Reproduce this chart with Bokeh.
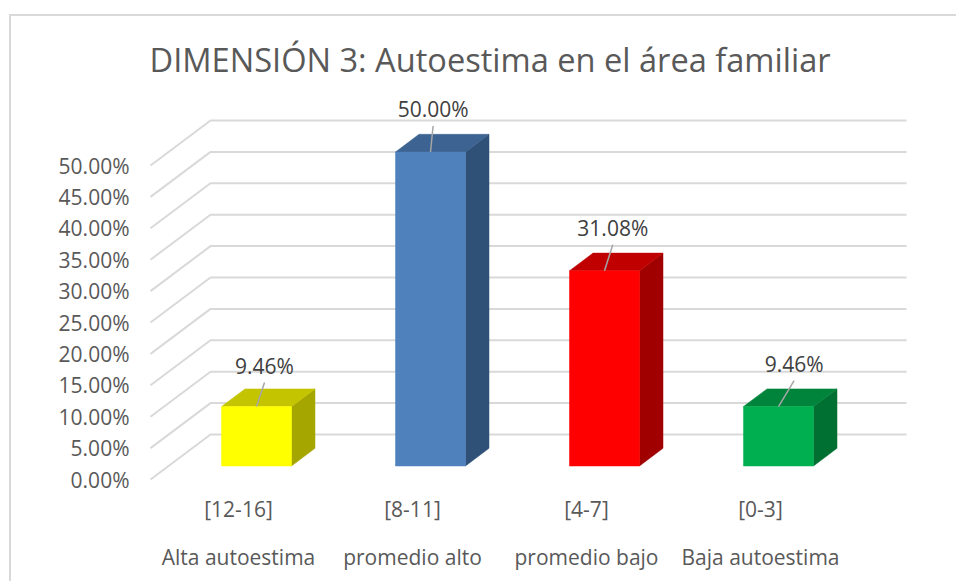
from bokeh.core.properties import value
from bokeh.embed import file_html
from bokeh.models import ColumnDataSource, FixedTicker, InlineStyleSheet, LinearAxis, NumeralTickFormatter, Range1d
from bokeh.plotting import figure
from bokeh.resources import INLINE

# ---- data
title = "DIMENSIÓN 3: Autoestima en el área familiar"
score_ranges = ["[12-16]", "[8-11]", "[4-7]", "[0-3]"]
levels = ["Alta autoestima", "promedio alto", "promedio bajo", "Baja autoestima"]
shares = [0.0946, 0.5000, 0.3108, 0.0946]
y_ticks = [0.00, 0.05, 0.10, 0.15, 0.20, 0.25, 0.30, 0.35, 0.40, 0.45, 0.50]

# ---- colours
front_colors = ["#ffff00", "#4f81bd", "#ff0000", "#00b050"]
top_colors = ["#c4c400", "#3c6391", "#c00000", "#00843c"]
side_colors = ["#a6a600", "#2f5077", "#a00000", "#006f32"]
GRID = "#d9d9d9"
TEXT = "#595959"
LABEL = "#404040"
FONT = "Open Sans"

# ---- scale of the plot in pixels per data unit, used for the 3D projection
PX_X = 174.0
PX_Y = 628.0
to_x = lambda px: px / PX_X
to_y = lambda px: px / PX_Y

WALL_DX, WALL_DY = to_x(60), to_y(45)
GRID_LEFT, GRID_RIGHT = to_x(-88), to_x(668)
BAR_LEFT, BAR_W = to_x(-17), to_x(70)
BAR_DX, BAR_DY = to_x(23.5), to_y(17.7)
BAR_BASE = to_y(13.5)
leader_dx = [8, 2.6, 8.3, 15.6]
leader_dy = [24, 26, 26, 26]
LABEL_DY = 17

p = figure(
    frame_width=795, frame_height=395,
    x_range=Range1d(to_x(-104), to_x(691)),
    y_range=Range1d(to_y(-6), to_y(389)),
    output_backend="svg", toolbar_location=None,
    min_border_left=134, min_border_right=11, min_border_top=90, min_border_bottom=0,
    outline_line_color=None, background_fill_color="white", border_fill_color="white",
    title=title,
)
p.grid.visible = False
p.title.text_font = FONT
p.title.text_font_size = "32.6px"
p.title.text_font_style = "normal"
p.title.text_color = TEXT
p.title.align = "left"
p.title.offset = 15
p.title.standoff = 18

# axes
yaxis = p.yaxis[0]
yaxis.ticker = FixedTicker(ticks=y_ticks)
yaxis.formatter = NumeralTickFormatter(format="0.00%")
xaxis = p.xaxis[0]
xaxis.ticker = FixedTicker(ticks=list(range(len(score_ranges))))
xaxis.major_label_overrides = {i: s for i, s in enumerate(score_ranges)}
xaxis2 = LinearAxis(
    ticker=FixedTicker(ticks=list(range(len(levels)))),
    major_label_overrides={i: s for i, s in enumerate(levels)},
)
p.add_layout(xaxis2, "below")
for ax in (yaxis, xaxis, xaxis2):
    ax.axis_line_color = None
    ax.major_tick_line_color = None
    ax.minor_tick_line_color = None
    ax.major_tick_out = 0
    ax.major_tick_in = 0
    ax.major_label_text_font = FONT
    ax.major_label_text_font_size = "21px"
    ax.major_label_text_color = TEXT
yaxis.major_label_standoff = 5
xaxis.major_label_standoff = 9
xaxis2.major_label_standoff = 17

# gridlines with wall
p.multi_line(
    xs=[[GRID_LEFT, GRID_LEFT + WALL_DX, GRID_RIGHT] for _ in y_ticks],
    ys=[[t, t + WALL_DY, t + WALL_DY] for t in y_ticks],
    line_color=GRID, line_width=2,
)

# bars
idx = range(len(shares))
lefts = [i + BAR_LEFT for i in idx]
rights = [l + BAR_W for l in lefts]
tops = [s + BAR_BASE for s in shares]

p.patches(
    xs=[[r, r + BAR_DX, r + BAR_DX, r] for r in rights],
    ys=[[BAR_BASE, BAR_BASE + BAR_DY, t + BAR_DY, t] for t in tops],
    fill_color=side_colors, line_color=side_colors, line_width=0.5,
)
p.patches(
    xs=[[l, l + BAR_DX, r + BAR_DX, r] for l, r in zip(lefts, rights)],
    ys=[[t, t + BAR_DY, t + BAR_DY, t] for t in tops],
    fill_color=top_colors, line_color=top_colors, line_width=0.5,
)
p.quad(left=lefts, right=rights, bottom=BAR_BASE, top=tops,
       fill_color=front_colors, line_color=front_colors, line_width=0.5)

# leader lines and data labels
mids = [l + BAR_W / 2 for l in lefts]
ends_x = [m + to_x(d) for m, d in zip(mids, leader_dx)]
ends_y = [t + to_y(d) for t, d in zip(tops, leader_dy)]
p.segment(x0=mids, y0=tops, x1=ends_x, y1=ends_y, line_color="#a6a6a6", line_width=1.5)
src = ColumnDataSource(dict(x=ends_x, y=[e + to_y(LABEL_DY) for e in ends_y],
                            t=[f"{s:.2%}" for s in shares]))
p.text(x="x", y="y", text="t", source=src, text_font=value(FONT), text_font_size="21px",
       text_color=LABEL, text_align="center", text_baseline="middle")

# chart frame: only the top and the left edge are visible in the picture
p.stylesheets = [InlineStyleSheet(css=f"""
:host::before {{content:""; position:absolute; z-index:10; left:9px; top:14px; width:947px; height:2px; background:{GRID};}}
:host::after {{content:""; position:absolute; z-index:10; left:9px; top:14px; width:2px; height:567px; background:{GRID};}}
""")]

open("out.html", "w").write(file_html(p, INLINE))
